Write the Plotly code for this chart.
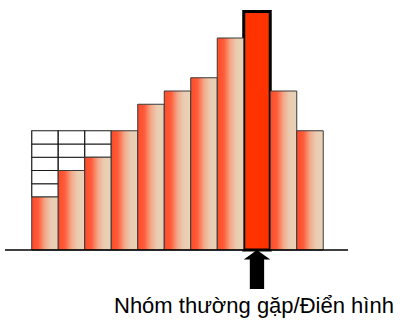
import plotly.graph_objects as go

# Frequency of each group (in units of one grid cell)
groups = list(range(11))
counts = [4, 6, 7, 9, 11, 12, 13, 16, 18, 12, 9]
typical_index = 8          # the most common / typical group
grid_top = 9               # white reference cells fill the first columns up to this level
grid_columns = [0, 1, 2]
label_text = "Nhóm thường gặp/Điển hình"

PX_W, PX_H = 402, 326
gradient = [[0.0, "#FF4A28"], [0.25, "#FF5C3A"], [0.5, "#F3A98A"],
            [0.72, "#EACBB0"], [1.0, "#E8D3B8"]]

fig = go.Figure()

# Gradient-filled histogram columns
for g, c in zip(groups, counts):
    if g == typical_index:
        continue
    fig.add_trace(go.Scatter(
        x=[g - 0.5, g - 0.5, g + 0.5, g + 0.5, g - 0.5],
        y=[0, c, c, 0, 0],
        mode="lines", fill="toself",
        line=dict(color="#3a3a3a", width=1),
        fillgradient=dict(type="horizontal", colorscale=gradient,
                          start=g - 0.5, stop=g + 0.5),
        hoverinfo="skip", showlegend=False,
    ))

# Empty cells stacked above the short columns
cell_x, cell_base = [], []
for g in grid_columns:
    for level in range(counts[g], grid_top):
        cell_x.append(g)
        cell_base.append(level)
fig.add_trace(go.Bar(
    x=cell_x, y=[1] * len(cell_x), base=cell_base, width=1,
    marker=dict(color="white", line=dict(color="#1a1a1a", width=1.2)),
    hoverinfo="skip", showlegend=False,
))

# Highlighted typical group
fig.add_trace(go.Bar(
    x=[groups[typical_index]], y=[counts[typical_index]], width=1,
    marker=dict(color="#FF3300", line=dict(color="black", width=3)),
    hoverinfo="skip", showlegend=False,
))

# Axis geometry: one group = 26.5 px, one count unit = 13.25 px
x_left, unit_x = -1.509, 26.5
x_right = x_left + (PX_W - 54 - 5) / unit_x
unit_y = 13.25
y_top = 250 / unit_y
y_bottom = -(PX_H - 250) / unit_y

# Baseline
fig.add_shape(type="line", x0=x_left, x1=x_right, y0=0, y1=0,
              line=dict(color="black", width=1.5))

# Upward arrow under the typical group
t = groups[typical_index]
head_h, shaft_end, shaft_half = 0.72, 2.95, 0.27
arrow_path = (f"M {t} 0 L {t + 0.5} {-head_h} L {t + shaft_half} {-head_h} "
              f"L {t + shaft_half} {-shaft_end} L {t - shaft_half} {-shaft_end} "
              f"L {t - shaft_half} {-head_h} L {t - 0.5} {-head_h} Z")
fig.add_shape(type="path", path=arrow_path, fillcolor="black",
              line=dict(color="black", width=0))

fig.add_annotation(
    text=label_text, xref="paper", yref="paper",
    x=(253.5 - 5) / (PX_W - 54 - 5), y=(PX_H - 305) / PX_H,
    xanchor="center", yanchor="middle", showarrow=False,
    font=dict(family="Liberation Sans, Arial", size=22, color="black"),
)

fig.update_layout(
    width=PX_W, height=PX_H,
    margin=dict(l=5, r=54, t=0, b=0),
    paper_bgcolor="white", plot_bgcolor="white",
    barmode="overlay",
    xaxis=dict(range=[x_left, x_right], visible=False, fixedrange=True),
    yaxis=dict(range=[y_bottom, y_top], visible=False, fixedrange=True),
    showlegend=False,
)

fig.write_html("out.html")
